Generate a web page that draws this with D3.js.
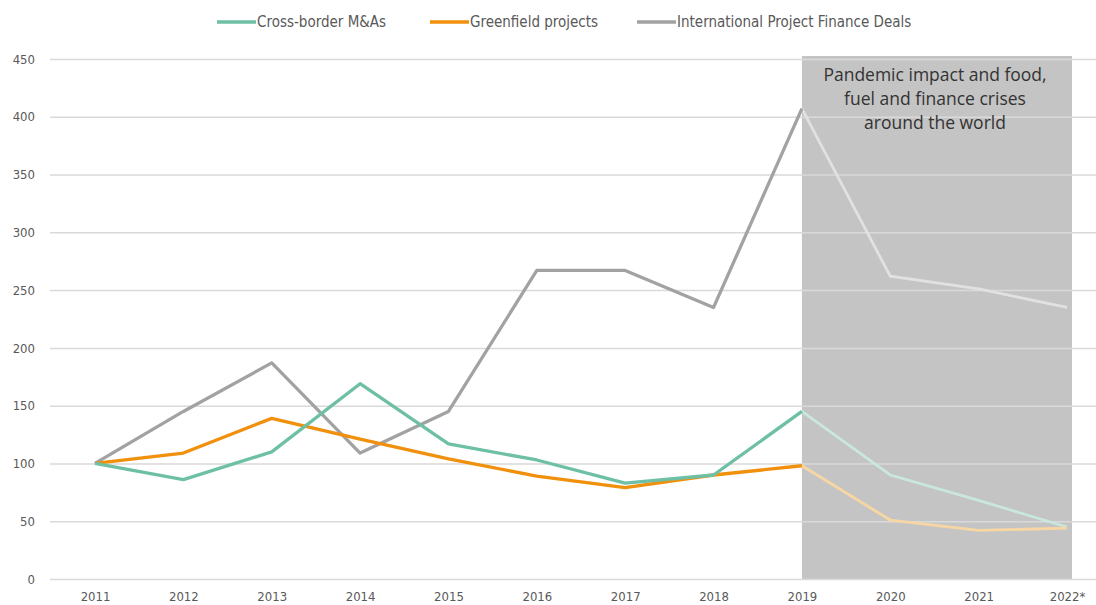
<!DOCTYPE html>
<html>
<head>
<meta charset="utf-8">
<script src="https://cdn.jsdelivr.net/npm/d3@7"></script>
<style>
  body { margin: 0; background: #fff; }
  svg { display: block; }
  .tick text { font-family: "Liberation Sans Narrow", "DejaVu Sans Condensed", sans-serif; }
</style>
</head>
<body>
<div class="container"></div>
<script>
// DATA
const years = ["2011", "2012", "2013", "2014", "2015", "2016", "2017", "2018", "2019", "2020", "2021", "2022*"];
const crossBorder = [100, 86, 110, 169, 117, 103, 83, 90, 145, 90, 68, 45];
const greenfield = [100, 109, 139, 121, 104, 89, 79, 90, 98, 51, 42, 44];
const projectFinance = [100, 145, 187, 109, 145, 267, 267, 235, 407, 262, 251, 235];
const yTicks = [0, 50, 100, 150, 200, 250, 300, 350, 400, 450];
const seriesNames = ["Cross-border M&As", "Greenfield projects", "International Project Finance Deals"];
const crisisStart = "2019";
const crisisNote = ["Pandemic impact and food,", "fuel and finance crises", "around the world"];

const colors = ["#6dbfa5", "#f0900c", "#a2a2a2"];
const faded = ["#c9e7dd", "#f8d6a4", "#e1e1e1"];

// SETUP
const width = 1096, height = 605;
const svg = d3.select("div.container")
  .append("svg")
  .attr("width", width)
  .attr("height", height);

const x = d3.scalePoint()
  .domain(years)
  .range([95, 1067]);

const y = d3.scaleLinear()
  .domain([0, 450])
  .range([579, 59]);

// shaded crisis period
svg.append("rect")
  .attr("x", x(crisisStart))
  .attr("y", y(450) - 3)
  .attr("width", x(years[years.length - 1]) - x(crisisStart) + 5)
  .attr("height", y(0) - y(450) + 3)
  .attr("fill", "#c4c4c4");

// gridlines + y labels
const yAxis = svg.append("g")
  .attr("transform", "translate(50,0)")
  .call(d3.axisLeft(y).tickValues(yTicks).tickSize(0).tickPadding(15));
yAxis.select(".domain").remove();
yAxis.selectAll(".tick text")
  .attr("fill", "#595959")
  .style("font-size", "13px");
yAxis.selectAll(".tick line")
  .attr("x2", width - 50)
  .attr("stroke", "#d9d9d9")
  .attr("stroke-width", 1.5);

// x labels
const xAxis = svg.append("g")
  .attr("transform", `translate(0,${y(0)})`)
  .call(d3.axisBottom(x).tickSize(0).tickPadding(13));
xAxis.select(".domain").remove();
xAxis.selectAll(".tick text")
  .attr("fill", "#595959")
  .style("font-size", "13px");

// lines: solid up to 2019, faded afterwards
const series = [crossBorder, greenfield, projectFinance];
const line = d3.line()
  .x(d => x(d.year))
  .y(d => y(d.value));
const splitIdx = years.indexOf(crisisStart);

series.forEach((vals, i) => {
  const pts = years.map((yr, j) => ({ year: yr, value: vals[j] }));
  svg.append("path")
    .datum(pts.slice(splitIdx))
    .attr("d", line)
    .attr("fill", "none")
    .attr("stroke", faded[i])
    .attr("stroke-width", 2.8);
});
// draw gray first so the others sit on top, like the original
[2, 1, 0].forEach(i => {
  const pts = years.map((yr, j) => ({ year: yr, value: series[i][j] }));
  svg.append("path")
    .datum(pts.slice(0, splitIdx + 1))
    .attr("d", line)
    .attr("fill", "none")
    .attr("stroke", colors[i])
    .attr("stroke-width", 3.3)
    .attr("stroke-linejoin", "round");
});

// annotation
const note = svg.append("text")
  .attr("x", 935)
  .attr("y", 81)
  .attr("text-anchor", "middle")
  .attr("fill", "#333")
  .style("font-family", "'Open Sans', sans-serif")
  .style("font-size", "17.5px");
note.selectAll("tspan")
  .data(crisisNote)
  .enter()
  .append("tspan")
  .attr("x", 935)
  .attr("dy", (d, i) => i ? 24 : 0)
  .text(d => d);

// legend
const legendX = [217, 430, 637];
const legend = svg.append("g");
seriesNames.forEach((name, i) => {
  legend.append("line")
    .attr("x1", legendX[i])
    .attr("x2", legendX[i] + 39)
    .attr("y1", 22)
    .attr("y2", 22)
    .attr("stroke", colors[i])
    .attr("stroke-width", 3.3);
  legend.append("text")
    .attr("x", legendX[i] + 40)
    .attr("y", 27)
    .attr("fill", "#595959")
    .style("font-family", "'Liberation Sans Narrow', 'DejaVu Sans Condensed', sans-serif")
    .style("font-size", "15px")
    .text(name);
});
</script>
</body>
</html>
